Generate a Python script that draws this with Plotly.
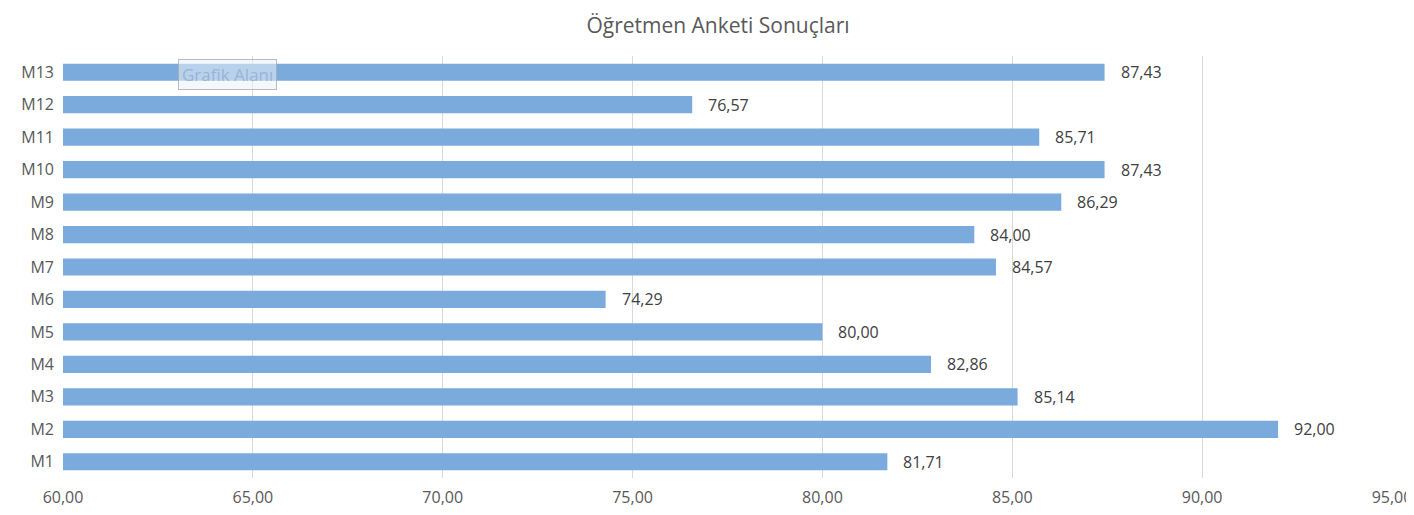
import plotly.graph_objects as go

categories = ["M1", "M2", "M3", "M4", "M5", "M6", "M7", "M8", "M9", "M10", "M11", "M12", "M13"]
scores = [81.71, 92.00, 85.14, 82.86, 80.00, 74.29, 84.57, 84.00, 86.29, 87.43, 85.71, 76.57, 87.43]
tick_vals = [60, 65, 70, 75, 80, 85, 90, 95]

def tr_fmt(v):
  # Turkish decimal comma
  return f"{v:.2f}".replace(".", ",")

fig = go.Figure()
fig.add_trace(go.Bar(
  x=[v - 60 for v in scores], y=categories, base=60,
  orientation="h",
  marker=dict(color="rgb(123,170,220)", line=dict(width=0)),
  width=0.53,
  hoverinfo="skip",
))

# value labels sit a little to the right of each bar end
for c, v in zip(categories, scores):
  fig.add_annotation(x=v, y=c, text=tr_fmt(v), showarrow=False,
                     xanchor="left", xshift=14,
                     font=dict(size=16, color="#404040"))

# the "Grafik Alanı" hover box visible in the original screenshot
fig.add_annotation(xref="paper", yref="paper", x=0.0865, y=0.992,
                   text="Grafik Alanı", showarrow=False,
                   xanchor="left", yanchor="top",
                   font=dict(size=17, color="rgba(150,175,210,0.9)"),
                   bgcolor="rgba(235,242,250,0.55)",
                   bordercolor="rgba(170,170,170,0.8)", borderwidth=1, borderpad=3)

# page body has an 8px margin, so the figure is a bit smaller than the window
fig.update_layout(
  width=1406, height=507,
  margin=dict(l=55, r=22, t=48, b=37, autoexpand=False),
  paper_bgcolor="white", plot_bgcolor="white",
  title=dict(text="Öğretmen Anketi Sonuçları", x=0.505, xanchor="center",
             y=0.966, yanchor="middle",
             font=dict(family="Open Sans, sans-serif", size=21, color="#595959")),
  font=dict(family="Open Sans, sans-serif"),
  showlegend=False,
  bargap=0.47,
)
fig.update_xaxes(range=[60, 95], tickvals=tick_vals,
                 ticktext=[tr_fmt(t) for t in tick_vals],
                 showgrid=True, gridcolor="#d9d9d9", gridwidth=1,
                 zeroline=False, showline=False, ticks="", automargin=False,
                 ticklabelstandoff=8,
                 tickfont=dict(size=16, color="#595959"))
fig.update_yaxes(showgrid=False, showline=False, ticks="", automargin=False,
                 ticklabelstandoff=8,
                 tickfont=dict(size=16, color="#595959"))

fig.write_html("out.html")
